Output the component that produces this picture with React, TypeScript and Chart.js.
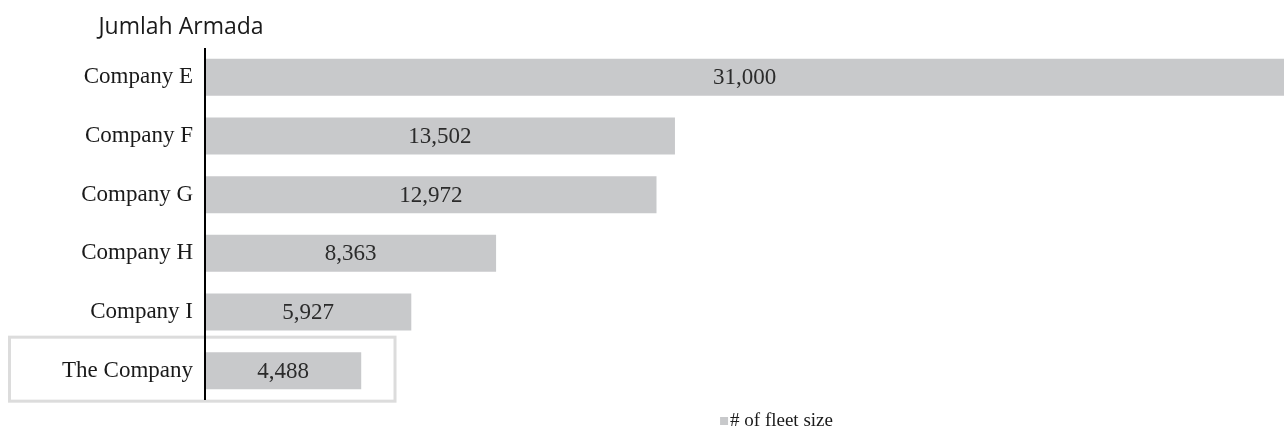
import React, { useEffect, useRef } from "react";
import { Chart, registerables } from "chart.js";

Chart.register(...registerables);

const categories = ["Company E", "Company F", "Company G", "Company H", "Company I", "The Company"];
const fleetSize = [31000, 13502, 12972, 8363, 5927, 4488];
const seriesLabel = "# of fleet size";
const titleText = "Jumlah Armada";
const highlightIndex = 5;

const BAR_COLOR = "#c8c9cb";
const SERIF = "'Liberation Serif', 'Times New Roman', serif";

const decorPlugin = {
  id: "decor",
  afterDatasetsDraw(chart: any) {
    const { ctx, chartArea } = chart;
    const x = chart.scales.x;
    const y = chart.scales.y;
    const meta = chart.getDatasetMeta(0);
    ctx.save();
    // data labels
    ctx.font = `23px ${SERIF}`;
    ctx.fillStyle = "#2b2b2b";
    ctx.textAlign = "center";
    ctx.textBaseline = "middle";
    meta.data.forEach((bar: any, i: number) => {
      const v = fleetSize[i];
      const cx = (x.getPixelForValue(0) + x.getPixelForValue(v)) / 2;
      ctx.fillText(v.toLocaleString("en-US"), cx, bar.y + 1);
    });
    // highlight box
    const cy = y.getPixelForValue(highlightIndex);
    ctx.strokeStyle = "#dcdcdc";
    ctx.lineWidth = 3;
    ctx.strokeRect(9.5, cy - 33.5, chartArea.left + 190 - 9.5, 64);
    // redraw axis line on top
    ctx.strokeStyle = "#000";
    ctx.lineWidth = 2;
    ctx.beginPath();
    ctx.moveTo(chartArea.left, chartArea.top);
    ctx.lineTo(chartArea.left, chartArea.bottom);
    ctx.stroke();
    // title
    ctx.font = "23px 'Open Sans', sans-serif";
    ctx.fillStyle = "#1a1a1a";
    ctx.textAlign = "center";
    ctx.textBaseline = "middle";
    ctx.fillText(titleText, 181, 27);
    // legend
    const lx = (chartArea.left + chartArea.right) / 2 + 32;
    const ly = chartArea.bottom + 21;
    ctx.font = `19px ${SERIF}`;
    ctx.textAlign = "left";
    const tw = ctx.measureText(seriesLabel).width;
    const total = 9 + 1 + tw;
    const sx = lx - total / 2;
    ctx.fillStyle = BAR_COLOR;
    ctx.fillRect(sx, ly - 4, 8, 8);
    ctx.fillStyle = "#1a1a1a";
    ctx.fillText(seriesLabel, sx + 10, ly);
    ctx.restore();
  },
};

export default function App() {
  const ref = useRef<HTMLCanvasElement | null>(null);
  useEffect(() => {
    if (!ref.current) return;
    const chart = new Chart(ref.current, {
      type: "bar",
      data: {
        labels: categories,
        datasets: [
          {
            label: seriesLabel,
            data: fleetSize,
            backgroundColor: BAR_COLOR,
            borderWidth: 0,
            categoryPercentage: 1,
            barPercentage: 0.63,
          },
        ],
      },
      options: {
        indexAxis: "y",
        animation: false,
        responsive: false,
        devicePixelRatio: 1,
        layout: { padding: { top: 48, bottom: 31, left: 0, right: 1 } },
        plugins: {
          legend: { display: false },
          title: { display: false },
          tooltip: { enabled: false },
        },
        scales: {
          x: {
            display: false,
            min: 0,
            max: 31000,
          },
          y: {
            grid: { display: false, drawTicks: false },
            border: { display: false },
            ticks: {
              padding: 12,
              color: "#1a1a1a",
              font: { family: SERIF, size: 23 },
            },
            afterFit(scale: any) {
              scale.width = 205;
            },
          },
        },
      },
      plugins: [decorPlugin],
    });
    return () => chart.destroy();
  }, []);
  return (
    <div style={{ position: "fixed", left: 0, top: 0, width: 1285, height: 431, background: "#fff" }}>
      <canvas ref={ref} width={1285} height={431} style={{ display: "block" }} />
    </div>
  );
}
